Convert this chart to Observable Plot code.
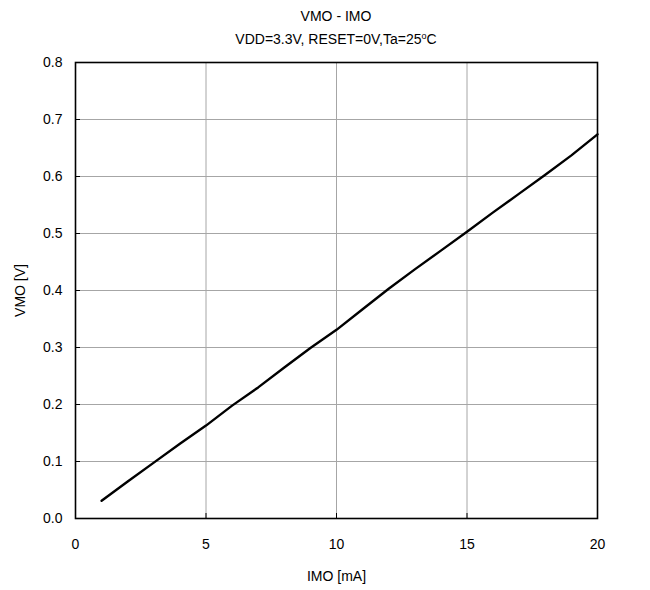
<!DOCTYPE html>
<html>
<head>
<meta charset="utf-8">
<script src="https://cdn.jsdelivr.net/npm/d3@7"></script>
<script src="https://cdn.jsdelivr.net/npm/@observablehq/plot@0.6"></script>
<style>
  body { margin: 0; background: #fff; font-family: Arial, "Liberation Sans", sans-serif; }
  #wrap { width: 650px; height: 590px; position: relative; }
  .title { position: absolute; left: 75px; width: 522px; text-align: center; font-size: 14px; color: #000; }
  #t1 { top: 8px; }
  #t2 { top: 31px; }
  #chart { position: absolute; top: 52px; left: 0; }
</style>
</head>
<body>
<div id="wrap">
  <div class="title" id="t1">VMO - IMO</div>
  <div class="title" id="t2">VDD=3.3V, RESET=0V,Ta=25<sup style="font-size:9px;vertical-align:5px;line-height:0">o</sup>C</div>
  <div id="chart"></div>
</div>
<script>
const imo = [1, 2, 3, 4, 5, 6, 7, 8, 9, 10, 11, 12, 13, 14, 15, 16, 17, 18, 19, 20];
const vmo = [0.031, 0.065, 0.098, 0.131, 0.163, 0.198, 0.230, 0.265, 0.299, 0.331, 0.367, 0.403, 0.437, 0.470, 0.503, 0.537, 0.570, 0.603, 0.637, 0.674];
const xTicks = [0, 5, 10, 15, 20];
const yTicks = [0, 0.1, 0.2, 0.3, 0.4, 0.5, 0.6, 0.7, 0.8];

const data = imo.map((x, i) => ({x, y: vmo[i]}));

const chart = Plot.plot({
  width: 650,
  height: 538,
  marginLeft: 75,
  marginRight: 53,
  marginTop: 10,
  marginBottom: 72,
  style: {fontFamily: "Arial, 'Liberation Sans', sans-serif", fontSize: "14px", color: "#000", background: "#fff"},
  x: {domain: [0, 20]},
  y: {domain: [0, 0.8]},
  marks: [
    Plot.gridX(xTicks, {stroke: "#a6a6a6", strokeOpacity: 1, strokeWidth: 1}),
    Plot.gridY(yTicks, {stroke: "#a6a6a6", strokeOpacity: 1, strokeWidth: 1}),
    Plot.ruleX(xTicks, {x: d => d, y1: 0, y2: 0, insetTop: -5, stroke: "#000"}),
    Plot.ruleY(yTicks, {y: d => d, x1: 0, x2: 0, insetRight: -5, stroke: "#000"}),
    Plot.axisX(xTicks, {tickSize: 0, tickPadding: 21, fontSize: 14, label: "IMO [mA]", labelAnchor: "center", labelArrow: "none", labelOffset: 62}),
    Plot.axisY(yTicks, {tickSize: 0, tickPadding: 13, tickFormat: d3.format(".1f"), fontSize: 14, label: "VMO [V]", labelAnchor: "center", labelArrow: "none", labelOffset: 60}),
    Plot.frame({stroke: "#000", strokeWidth: 1.6}),
    Plot.line(data, {x: "x", y: "y", stroke: "#000", strokeWidth: 2.4})
  ]
});
document.getElementById("chart").appendChild(chart);
</script>
</body>
</html>
